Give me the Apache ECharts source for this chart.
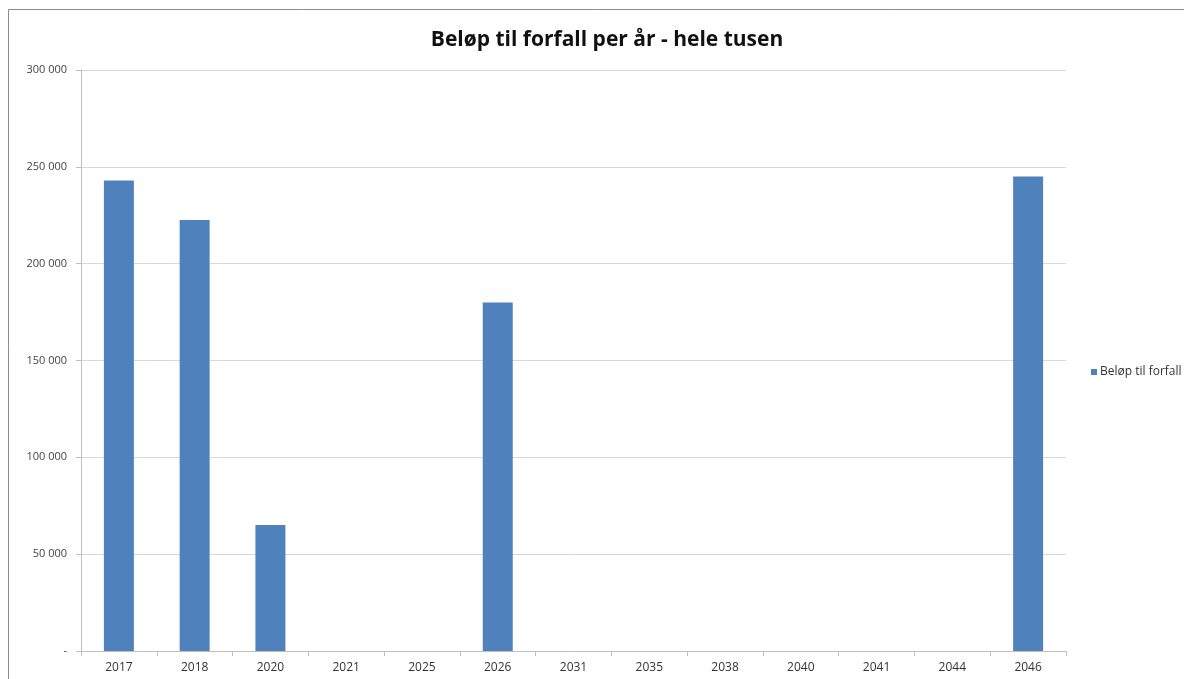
<!DOCTYPE html>
<html>
<head>
<meta charset="utf-8">
<script src="https://cdn.jsdelivr.net/npm/echarts@6/dist/echarts.min.js"></script>
<style>
  html, body { margin: 0; padding: 0; background: #fff; }
  #chart { width: 1184px; height: 679px; }
</style>
</head>
<body>
<div id="chart"></div>
<script>
// Maturity years and amounts due (whole thousands)
const years = ['2017', '2018', '2020', '2021', '2025', '2026', '2031', '2035', '2038', '2040', '2041', '2044', '2046'];
const amounts = [243000, 222500, 65000, 0, 0, 180000, 0, 0, 0, 0, 0, 0, 245000];
const seriesName = 'Beløp til forfall';
const titleText = 'Beløp til forfall per år - hele tusen';

function fmt(v) {
  if (v === 0) return '-';
  return String(v).replace(/\B(?=(\d{3})+(?!\d))/g, ' ');
}

const chart = echarts.init(document.getElementById('chart'), null, { renderer: 'canvas' });
chart.setOption({
  backgroundColor: '#ffffff',
  animation: false,
  graphic: [{
    type: 'rect',
    shape: { x: 8.5, y: 9.5, width: 1200, height: 700 },
    style: { fill: 'none', stroke: '#8c8c8c', lineWidth: 1 },
    silent: true
  }],
  title: {
    text: titleText,
    left: 602, top: 25, textAlign: 'center',
    textStyle: { fontFamily: 'Open Sans', fontWeight: 'bold', fontSize: 21, color: '#111' }
  },
  legend: {
    data: [seriesName],
    left: 1086, top: 361,
    icon: 'rect', itemWidth: 6, itemHeight: 6, itemGap: 5,
    textStyle: { fontFamily: 'Open Sans', fontSize: 12, color: '#333', padding: [0, 0, 0, -2] }
  },
  grid: { left: 81, top: 70, width: 985, height: 581, containLabel: false },
  xAxis: {
    type: 'category',
    data: years,
    axisLine: { lineStyle: { color: '#bfbfbf' } },
    axisTick: { show: true, length: 5, lineStyle: { color: '#bfbfbf' } },
    axisLabel: { fontFamily: 'Open Sans', fontSize: 12, color: '#333', margin: 11 }
  },
  yAxis: {
    type: 'value',
    min: 0, max: 300000, interval: 50000,
    axisLine: { show: true, lineStyle: { color: '#bfbfbf' } },
    axisTick: { show: true, inside: false, length: 5, lineStyle: { color: '#bfbfbf' } },
    splitLine: { lineStyle: { color: '#d9d9d9' } },
    axisLabel: { fontFamily: 'Open Sans', fontSize: 11, color: '#444', margin: 14, formatter: fmt }
  },
  series: [{
    name: seriesName,
    type: 'bar',
    data: amounts,
    barWidth: 30,
    itemStyle: { color: '#4f81bd' }
  }]
});
</script>
</body>
</html>
